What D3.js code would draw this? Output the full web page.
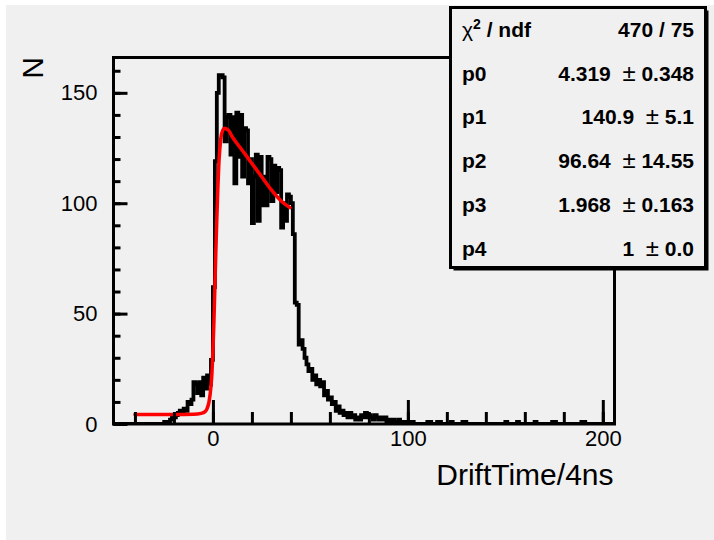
<!DOCTYPE html>
<html>
<head>
<meta charset="utf-8">
<script src="https://cdn.jsdelivr.net/npm/d3@7"></script>
<style>
  body { margin: 0; background: #ffffff; }
  text { font-family: "Liberation Sans", Arial, sans-serif; fill: #000; }
  .tick line { stroke: #000; stroke-width: 3; }
  .tick text { font-size: 22px; }
  .stat { font-size: 21px; font-weight: bold; }
</style>
</head>
<body>
<script>
// axis ranges
const xRange = [-51, 206];
const yRange = [0, 166];
const xMinorTicks = d3.range(-40, 201, 20);
const xMajorTicks = [0, 100, 200];
const yMinorTicks = d3.range(0, 161, 10);
const yMajorTicks = [0, 50, 100, 150];

// histogram, bins of width 1 starting at firstBin
const firstBin = -25;
const counts = [
    1, 0, 1, 2, 3, 3, 4, 5, 6, 5, 7, 6, 10, 9, 11, 19, 18, 14, 19, 13, 21, 16, 22, 18, 29,
    62, 119, 150, 158, 158, 157, 128, 139, 140, 122, 139, 109, 141, 121, 140, 112, 134, 133, 109, 120,
    91, 112, 122, 92, 121, 99, 112, 99, 121, 120, 101, 117, 105, 116, 115, 89, 100, 92, 104, 103,
    100, 86, 55, 54, 36, 38, 34, 30, 27, 24, 25, 20, 22, 18, 20, 17, 19, 13, 15, 11,
    12, 9, 10, 6, 8, 5, 6, 4, 5, 3, 5, 3, 4, 2, 3, 2, 4, 3, 5, 3,
    4, 3, 2, 4, 3, 2, 3, 2, 3, 1, 2, 1, 2, 1, 1, 2, 1, 1, 0, 1,
    0, 1, 1
];
// isolated single entries further out
const tailBins = [110, 111, 115, 116, 122, 128, 129, 150, 156, 165, 174, 175, 189, 190];
const tailCounts = [1, 1, 1, 1, 1, 1, 1, 1, 1, 1, 1, 1, 1, 1];

// fit curve
const fitX = [-40, -20, -10, -6, -4, -3, -2, -1, -0.5, 0, 0.5, 1, 1.5, 2, 2.5, 3, 3.5, 4, 5, 6, 8, 10, 15, 20, 25, 30, 35, 39.5];
const fitY = [4.3, 4.3, 4.4, 4.8, 5.6, 7, 10, 17, 23, 33, 46, 62, 78, 93, 106, 117, 124, 129, 133, 134, 133, 130, 124, 118, 112, 106, 101, 98];

// stats box
const statNames = ["p0", "p1", "p2", "p3", "p4"];
const statValues = ["4.319", "140.9", "96.64", "1.968", "1"];
const statErrors = ["0.348", "5.1", "14.55", "0.163", "0.0"];
const chi2Text = "470 / 75";

function drawChart() {
    const frame = {left: 113.5, right: 614.5, top: 57.5, bottom: 424};

    const svg = d3.select("body").append("svg")
        .attr("width", 714)
        .attr("height", 540);

    // grey canvas
    svg.append("rect")
        .attr("x", 6).attr("y", 5)
        .attr("width", 708).attr("height", 535)
        .attr("fill", "#f0f0f0");

    const xScale = d3.scaleLinear().domain(xRange).range([frame.left, frame.right]);
    const yScale = d3.scaleLinear().domain(yRange).range([frame.bottom, frame.top]);

    // build full bin list
    const bins = [];
    for (let b = xRange[0]; b < xRange[1]; b++) bins.push({x: b, y: 0});
    counts.forEach((c, i) => { bins[firstBin + i - xRange[0]].y = c; });
    tailBins.forEach((b, i) => { bins[b - xRange[0]].y = tailCounts[i]; });
    bins.push({x: xRange[1], y: bins[bins.length - 1].y});

    svg.append("clipPath").attr("id", "frameClip")
        .append("rect")
        .attr("x", frame.left).attr("y", frame.top)
        .attr("width", frame.right - frame.left)
        .attr("height", frame.bottom - frame.top);

    const histLine = d3.line()
        .x(d => xScale(d.x))
        .y(d => yScale(d.y))
        .curve(d3.curveStepAfter);

    svg.append("path")
        .datum(bins)
        .attr("clip-path", "url(#frameClip)")
        .attr("d", histLine)
        .attr("fill", "none")
        .attr("stroke", "#000")
        .attr("stroke-width", 3.8);

    // fit curve
    const fitLine = d3.line()
        .x(d => xScale(d[0]))
        .y(d => yScale(d[1]))
        .curve(d3.curveMonotoneX);
    svg.append("path")
        .datum(fitX.map((x, i) => [x, fitY[i]]))
        .attr("d", fitLine)
        .attr("fill", "none")
        .attr("stroke", "#ff0000")
        .attr("stroke-width", 3.5)
        .attr("stroke-linecap", "round");

    // axes, ticks point into the frame like ROOT
    const gx = svg.append("g").attr("transform", `translate(0, ${frame.bottom})`);
    gx.append("g").call(d3.axisBottom(xScale).tickValues(xMinorTicks).tickSize(-12).tickFormat(""));
    gx.append("g").call(d3.axisBottom(xScale).tickValues(xMajorTicks).tickSize(-24).tickPadding(6).tickFormat(d3.format("d")));
    gx.selectAll(".domain").remove();

    const gy = svg.append("g").attr("transform", `translate(${frame.left}, 0)`);
    gy.append("g").call(d3.axisLeft(yScale).tickValues(yMinorTicks).tickSize(-7).tickFormat(""));
    gy.append("g").call(d3.axisLeft(yScale).tickValues(yMajorTicks).tickSize(-14).tickPadding(16).tickFormat(d3.format("d")));
    gy.selectAll(".domain").remove();
    svg.selectAll(".tick text").attr("font-family", null).attr("font-size", null);

    // frame
    svg.append("rect")
        .attr("x", frame.left).attr("y", frame.top)
        .attr("width", frame.right - frame.left)
        .attr("height", frame.bottom - frame.top)
        .attr("fill", "none")
        .attr("stroke", "#000")
        .attr("stroke-width", 3);

    // axis titles
    svg.append("text")
        .attr("x", frame.right - 1)
        .attr("y", 485)
        .attr("text-anchor", "end")
        .style("font-size", "30px")
        .text("DriftTime/4ns");

    svg.append("text")
        .attr("transform", "translate(43, 57) rotate(-90)")
        .attr("text-anchor", "end")
        .style("font-size", "30px")
        .text("N");

    // stats box with shadow
    const box = {x: 450.5, y: 7.5, w: 255, h: 260};
    svg.append("rect")
        .attr("x", box.x + 3).attr("y", box.y + 3)
        .attr("width", box.w).attr("height", box.h)
        .attr("fill", "#000");
    svg.append("rect")
        .attr("x", box.x).attr("y", box.y)
        .attr("width", box.w).attr("height", box.h)
        .attr("fill", "#f0f0f0")
        .attr("stroke", "#000")
        .attr("stroke-width", 3);

    const rowY = i => 37 + i * 43.7;
    const labelX = 462, valueX = 694;

    const chiLabel = svg.append("text").attr("class", "stat").attr("x", labelX).attr("y", rowY(0));
    chiLabel.append("tspan").style("font-weight", "normal").text("\u03c7");
    chiLabel.append("tspan").attr("dy", -8).style("font-size", "14px").text("2");
    chiLabel.append("tspan").attr("dy", 8).text(" / ndf");
    svg.append("text").attr("class", "stat")
        .attr("x", valueX).attr("y", rowY(0))
        .attr("text-anchor", "end")
        .text(chi2Text);

    statNames.forEach((name, i) => {
        svg.append("text").attr("class", "stat")
            .attr("x", labelX).attr("y", rowY(i + 1))
            .text(name);
        const t = svg.append("text").attr("class", "stat")
            .attr("x", valueX).attr("y", rowY(i + 1))
            .attr("text-anchor", "end")
            .attr("xml:space", "preserve");
        t.append("tspan").text(statValues[i] + "  ");
        t.append("tspan").style("font-weight", "normal").style("font-size", "24px").text("\u00b1");
        t.append("tspan").text(" " + statErrors[i]);
    });
}

function main() {
    drawChart();
}

main();
</script>
</body>
</html>
